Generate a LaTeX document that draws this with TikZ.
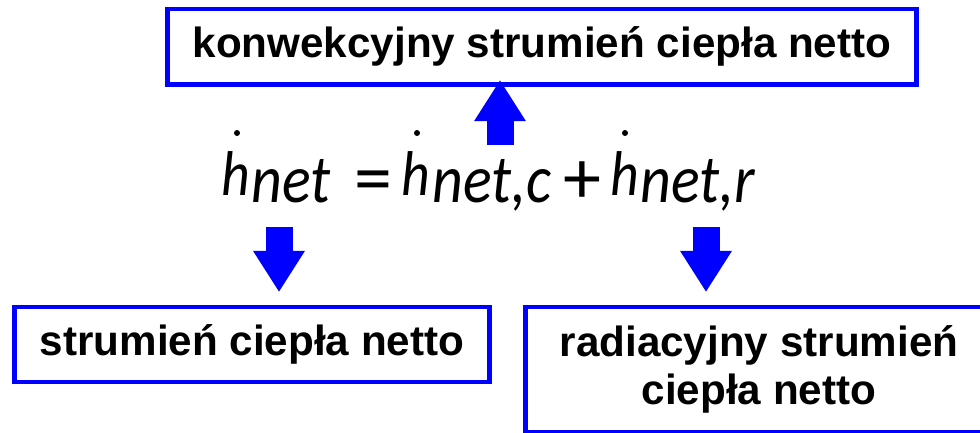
\documentclass[tikz,border=0pt]{standalone}
\usepackage{fontspec}
\setmainfont{Liberation Sans}
\newfontfamily\eqfont[FakeStretch=0.88]{Carlito}
\newfontfamily\opfont{Carlito}
\usepackage{tikz}
\usetikzlibrary{arrows.meta,positioning,calc}
\definecolor{diagblue}{HTML}{0000FF}
\definecolor{diagink}{HTML}{000000}

\tikzset{
  boxlbl/.style={draw=diagblue, line width=3.5pt, inner sep=0pt, align=center,
    text=diagink, font=\fontsize{30}{34}\selectfont\bfseries},
  blockarrow/.style={diagblue, line width=19.2pt,
    -{Triangle[length=29pt,width=37pt,line width=0pt]}},
  hsym/.style={anchor=base west, inner sep=0pt, font=\eqfont\itshape\fontsize{45}{45}\selectfont},
  sub/.style={anchor=base west, inner sep=0pt, font=\eqfont\itshape\fontsize{48.4}{48}\selectfont},
  op/.style={anchor=base west, inner sep=0pt, font=\opfont\fontsize{54}{54}\selectfont}
}

\begin{document}
\begin{tikzpicture}[x=0.025cm, y=-0.025cm]
        \useasboundingbox (0,0) rectangle (980,433);
        \clip (0,0) rectangle (980,433);
        % boxes
        \node[boxlbl, minimum width=748*0.7113pt, minimum height=75.5*0.7113pt] (conv) at (542,46.75)
          {konwekcyjny strumień ciepła netto};
        \node[boxlbl, minimum width=474*0.7113pt, minimum height=75*0.7113pt] (net) at (252,344.5)
          {strumień ciepła netto};
        \node[boxlbl, minimum width=466*0.7113pt, minimum height=125*0.7113pt] (rad) at (759,369.5)
          {radiacyjny strumień\\ciepła netto};
        % equation
        \node[hsym] (h1) at (221,195) {h};
        \node[sub] (n1) at (251,202) {net};
        \node[op] (eq) at (354,203) {=};
        \node[hsym] (h2) at (401,195) {h};
        \node[sub] (n2) at (432,202) {net,c};
        \node[op] (plus) at (563,203) {+};
        \node[hsym] (h3) at (610,195) {h};
        \node[sub] (n3) at (640,202) {net,r};
        \fill (237,133) circle[radius=3];
        \fill (417,133) circle[radius=3];
        \fill (625,133) circle[radius=3];
        % arrows
        \coordinate (t1) at (279,227);
        \coordinate (t2) at (500,145);
        \coordinate (t3) at (706,227);
        \draw[blockarrow] (t2) -- ($(t2 |- conv.south)+(0,-6.5)$);
        \draw[blockarrow, shorten >=9.2pt] (t1) -- (t1 |- net.north);
        \draw[blockarrow, shorten >=9.2pt] (t3) -- (t3 |- rad.north);
      \end{tikzpicture}
\end{document}
